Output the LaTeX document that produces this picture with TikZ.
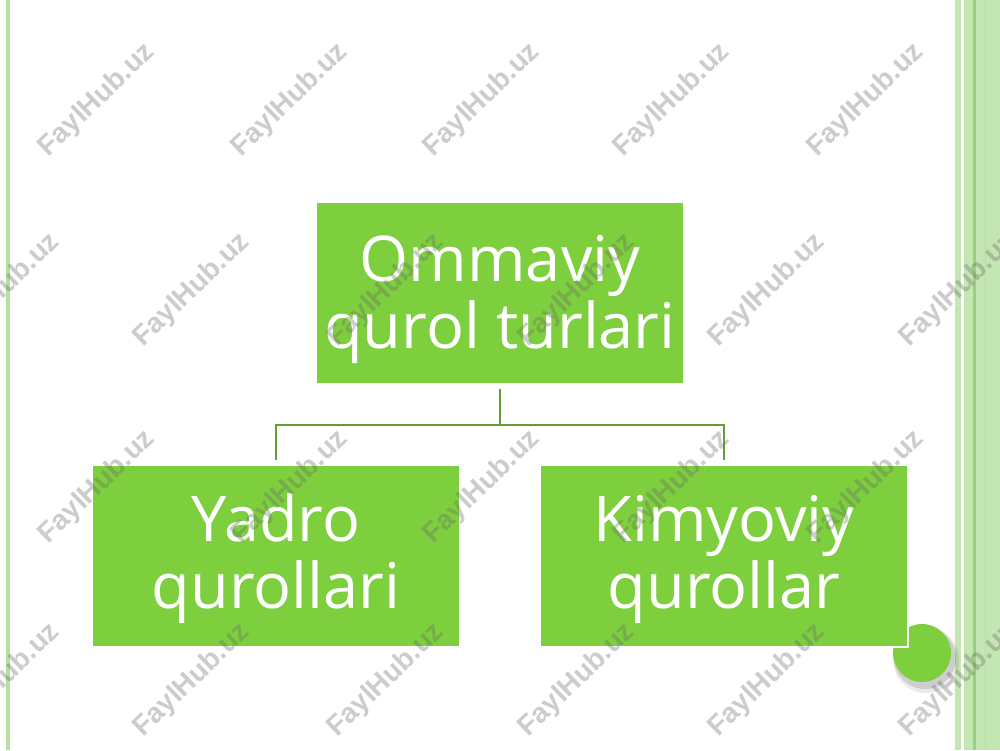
\documentclass[tikz,border=0pt]{standalone}
\usepackage{fontspec}
\setmainfont{Open Sans}
\newfontfamily\wmfont{Liberation Sans}
\definecolor{boxgreen}{RGB}{126,207,62}
\definecolor{linegreen}{RGB}{98,160,54}
\definecolor{bordergreen}{RGB}{183,224,160}
\definecolor{bandgreen}{RGB}{196,230,178}
\definecolor{banddark}{RGB}{150,210,120}
\tikzset{
  orgbox/.style={fill=boxgreen, draw=white, line width=1.2pt, minimum width=368pt, minimum height=182pt, inner sep=0pt},
  boxtext/.style={text=white, align=center, font=\fontsize{63}{67}\selectfont, inner sep=0pt},
  conn/.style={draw=linegreen, line width=2pt},
  wm/.style={rotate=44, text=black!60, opacity=0.33, font=\wmfont\bfseries\fontsize{28}{28}\selectfont, inner sep=0pt}
}
\begin{document}
\begin{tikzpicture}[x=1pt,y=-1pt]
\useasboundingbox (0,0) rectangle (1000,750);
\fill[white] (0,0) rectangle (1000,750);
% left border
\fill[bordergreen] (6,0) rectangle (10,750);
% right border band
\fill[bandgreen] (955,0) rectangle (961,750);
\fill[bandgreen] (964,0) rectangle (1000,750);
\fill[banddark] (973,0) rectangle (975.5,750);
\fill[banddark!70] (985,0) rectangle (986,750);
% circle with shadow
\fill[black, opacity=0.12] (925,658) circle (31);
\fill[black, opacity=0.08] (926,660) circle (33);
\fill[boxgreen] (922,653) circle (29);
% boxes
\node[orgbox] (top) at (500,293) {};
\node[orgbox] (left) at (276,556) {};
\node[orgbox] (right) at (724,556) {};
\node[boxtext] (ttop) at (500,299) {Ommaviy\\qurol turlari};
\node[boxtext] (tleft) at (276,559) {Yadro\\qurollari};
\node[boxtext] (tright) at (724,559) {Kimyoviy\\qurollar};
% connectors
\coordinate (j) at (500,425);
\draw[conn] ([yshift=-4pt]top.south) -- (j);
\draw[conn] (j) -| ([yshift=4pt]left.north);
\draw[conn] (j) -| ([yshift=4pt]right.north);
% watermarks
\foreach \x in {97,290,482,672,866} {
  \node[wm] (w1\x) at (\x,100) {FaylHub.uz};
  \node[wm] (w3\x) at (\x,487) {FaylHub.uz};
}
\foreach \x in {2,192,386,577,767,958} {
  \node[wm] (w2\x) at (\x,290) {FaylHub.uz};
  \node[wm] (w4\x) at (\x,680) {FaylHub.uz};
}
\end{tikzpicture}
\end{document}
